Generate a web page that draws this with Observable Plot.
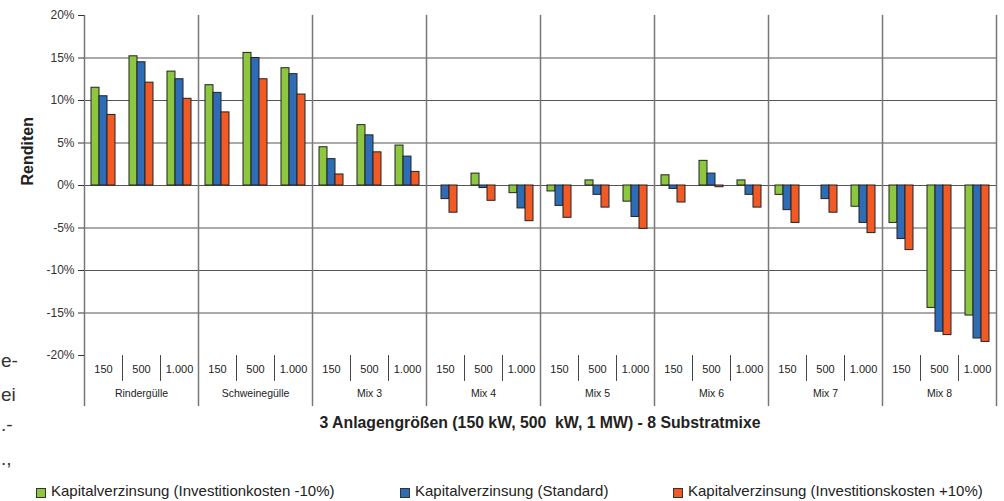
<!DOCTYPE html>
<html><head><meta charset="utf-8">
<script src="https://cdn.jsdelivr.net/npm/d3@7"></script>
<script src="https://cdn.jsdelivr.net/npm/@observablehq/plot@0.6"></script>
<style>
body{margin:0;background:#fff;font-family:"Liberation Sans",Arial,sans-serif;}
#wrap{position:relative;width:1004px;height:501px;overflow:hidden;background:#fff;}
#chart{position:absolute;left:0;top:0;}
.frag{position:absolute;font-size:19px;line-height:23px;color:#333;white-space:pre;}
#xtitle{position:absolute;left:79px;width:922px;top:414px;text-align:center;font-weight:bold;font-size:15.8px;line-height:18px;color:#222;white-space:pre;}
.item{position:absolute;top:482px;white-space:nowrap;font-size:15px;line-height:18px;color:#222;}
.sw{position:absolute;top:6px;width:8px;height:8px;border:1px solid #333;}
</style></head>
<body><div id="wrap">
<div id="chart"></div>
<div class="frag" style="left:1px;top:349px">e-</div>
<div class="frag" style="left:1px;top:383px">ei</div>
<div class="frag" style="left:1px;top:413px">.-</div>
<div class="frag" style="left:1px;top:447px">.,</div>
<div id="xtitle"></div>
<div id="legend"></div>
</div>
<script>
const groups = ["Rindergülle","Schweinegülle","Mix 3","Mix 4","Mix 5","Mix 6","Mix 7","Mix 8"];
const sizes = ["150","500","1.000"];
const series = ["Kapitalverzinsung (Investitionkosten -10%)","Kapitalverzinsung (Standard)","Kapitalverzinsung (Investitionskosten +10%)"];
const colors = ["#8dc63f","#2e6db5","#f15a24"];
// values in %, order: group x size
const minus10  = [11.5,15.2,13.4, 11.8,15.6,13.8, 4.5,7.1,4.7, 0.0,1.4,-0.9, -0.7,0.6,-1.9, 1.2,2.9,0.6, -1.1,0.0,-2.5, -4.4,-14.4,-15.3];
const standard = [10.5,14.5,12.5, 10.9,15.0,13.1, 3.1,5.9,3.4, -1.6,-0.3,-2.7, -2.4,-1.1,-3.7, -0.4,1.4,-1.1, -2.9,-1.6,-4.4, -6.3,-17.2,-18.0];
const plus10   = [8.3,12.1,10.2, 8.6,12.5,10.7, 1.3,3.9,1.6, -3.2,-1.8,-4.2, -3.8,-2.6,-5.1, -2.0,-0.2,-2.6, -4.4,-3.2,-5.6, -7.6,-17.6,-18.4];
const yTicks = [-20,-15,-10,-5,0,5,10,15,20];
const gridTicks = [-15,-10,-5,0,5,10,15];
const yLabel = "Renditen";
const xLabel = "3 Anlagengrößen (150 kW, 500  kW, 1 MW) - 8 Substratmixe";

const valueSets = [minus10, standard, plus10];
const slots = groups.flatMap(g => sizes.map(s => g + "|" + s));
const bars = slots.flatMap((slot, i) => series.map((s, j) => ({slot, series: s, value: valueSets[j][i]})));
const slotRows = slots.map((slot, i) => ({slot, group: groups[Math.floor(i / 3)], size: sizes[i % 3], idx: i % 3}));
const groupStart = slotRows.filter(d => d.idx === 0);
const groupMid = slotRows.filter(d => d.idx === 1);
const innerSep = slotRows.filter(d => d.idx > 0);
const lastSlot = slotRows.slice(-1);
const firstSlot = slotRows.slice(0, 1);
const line = {draw(ctx, l) { ctx.moveTo(0, 0); ctx.lineTo(0, -l); }};

const chart = Plot.plot({
  width: 1004, height: 410,
  marginLeft: 79, marginRight: 3, marginTop: 15, marginBottom: 5,
  style: {fontFamily: "'Liberation Sans', Arial, sans-serif", background: "white", color: "#222", overflow: "visible"},
  fx: {domain: slots, padding: 0, axis: null},
  x: {domain: series, paddingInner: 0, paddingOuter: 0.73, axis: null},
  y: {domain: [-20, 20], range: [355, 15], axis: null},
  color: {domain: series, range: colors},
  marks: [
    Plot.ruleY(gridTicks, {stroke: "#555", strokeWidth: 1}),
    Plot.vector(innerSep, {fx: "slot", frameAnchor: "bottom-left", dy: -25, length: 25, anchor: "start", shape: line, stroke: "#444", strokeWidth: 1}),
    Plot.vector(groupStart, {fx: "slot", frameAnchor: "bottom-left", length: 390, anchor: "start", shape: line, stroke: "#777", strokeWidth: 1.5}),
    Plot.vector(lastSlot, {fx: "slot", frameAnchor: "bottom-right", length: 390, anchor: "start", shape: line, stroke: "#777", strokeWidth: 1.5}),
    Plot.barY(bars, {fx: "slot", x: "series", y: "value", fill: "series", stroke: "#222", strokeWidth: 1}),
    Plot.axisY(yTicks, {facetAnchor: "left", tickFormat: d => d + "%", tickSize: 6, tickPadding: 4, fontSize: 12, color: "#333", label: null}),
    Plot.text(slotRows, {fx: "slot", text: "size", frameAnchor: "bottom", dy: -33, fontSize: 11, fill: "#222"}),
    Plot.text(groupMid, {fx: "slot", text: "group", frameAnchor: "bottom", dy: -9, fontSize: 10.5, fill: "#222"}),
    Plot.text(firstSlot, {fx: "slot", text: () => yLabel, frameAnchor: "left", rotate: -90, dx: -57, dy: -25, fontWeight: "bold", fontSize: 16, fill: "#222"})
  ]
});
document.getElementById("chart").appendChild(chart);
document.getElementById("xtitle").textContent = xLabel;

const legendX = [36, 400, 673];
const legend = document.getElementById("legend");
series.forEach((s, i) => {
  const item = document.createElement("div");
  item.className = "item";
  item.style.left = legendX[i] + "px";
  item.style.paddingLeft = "15px";
  const sw = document.createElement("span");
  sw.className = "sw";
  sw.style.left = "0px";
  sw.style.background = colors[i];
  item.appendChild(sw);
  item.appendChild(document.createTextNode(s));
  legend.appendChild(item);
});
</script>
</body></html>
